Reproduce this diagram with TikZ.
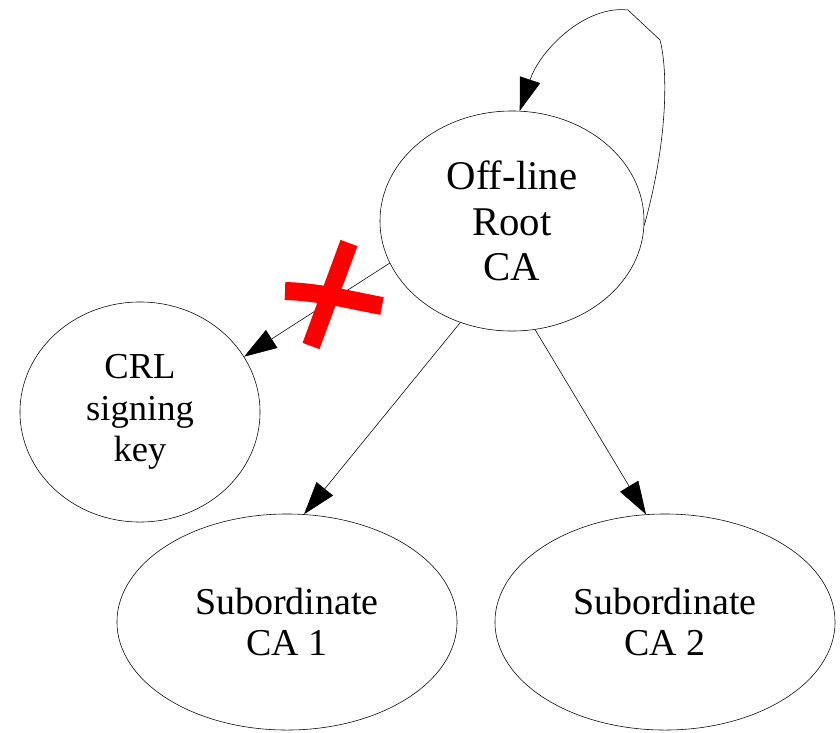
\documentclass[tikz,border=0pt]{standalone}
\usepackage{fontspec}
\setmainfont{Liberation Serif}
\usetikzlibrary{shapes.geometric,arrows.meta}

\begin{document}
\begin{tikzpicture}[x=0.025cm, y=-0.025cm,
	ca/.style={draw, ellipse, inner sep=0pt, align=center, font=\fontsize{27}{29}\selectfont},
	edge/.style={-{Triangle[length=8.2mm,width=5.3mm]}},
	cross/.style={red, line width=0.45cm}]
	\useasboundingbox (0,0) rectangle (840,732);

	% Root CA
	\node[ca, minimum width=6.6cm, minimum height=5.5cm, font=\fontsize{29}{32.5}\selectfont] (root) at (512,221) {Off-line\\Root\\CA};

	% CRL key
	\node[ca, minimum width=6cm, minimum height=5.5cm, font=\fontsize{26}{29.5}\selectfont] (crl) at (140,412) {CRL\\signing\\key};

	% Subordinates
	\node[ca, minimum width=8.5cm, minimum height=5.4cm] (sub1) at (287,622) {Subordinate\\CA 1};
	\node[ca, minimum width=8.5cm, minimum height=5.4cm] (sub2) at (665,622) {Subordinate\\CA 2};

	% Edges
	\draw[edge] (root.199) -- (crl.28);
	\draw[edge] (root.243) -- (sub1.81);
	\draw[edge] (root.282) -- (sub2.100);

	% Self loop
	\draw[edge] (root.-2) .. controls (668,140) and (668,70) .. (660,40) -- (628,10)
		.. controls (585,5) and (540,50) .. (root.86);

	% Red cross
	\draw[cross] (349,243) -- (311,346);
	\draw[cross] (285,291) .. controls (320,292) and (350,300) .. (382,306);
\end{tikzpicture}
\end{document}
